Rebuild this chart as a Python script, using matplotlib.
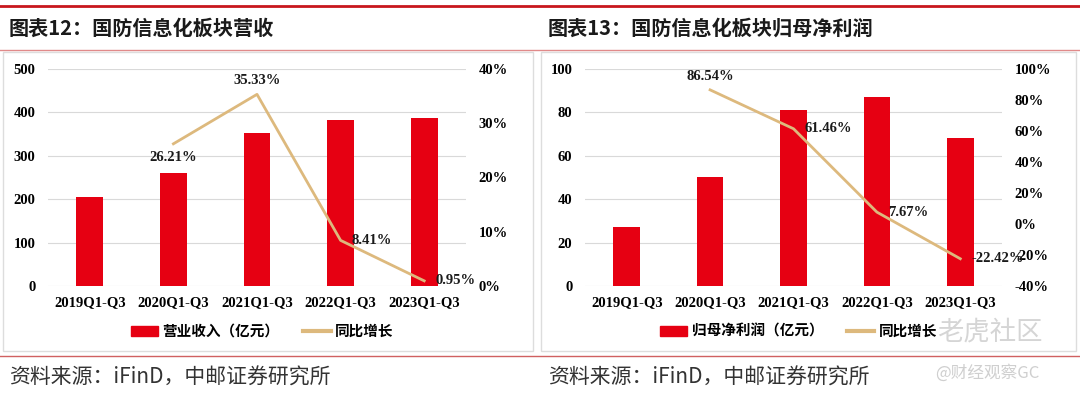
import matplotlib
matplotlib.use("Agg")
import matplotlib.pyplot as plt
from matplotlib.patches import Rectangle, Patch
from matplotlib.lines import Line2D
from matplotlib.ticker import FuncFormatter

# data
periods = ["2019Q1-Q3", "2020Q1-Q3", "2021Q1-Q3", "2022Q1-Q3", "2023Q1-Q3"]
revenue = [205, 260, 352, 382, 387]
revenue_yoy = [None, 26.21, 35.33, 8.41, 0.95]
profit = [27.2, 50.2, 81.1, 87.1, 68.2]
profit_yoy = [None, 86.54, 61.46, 7.67, -22.42]

RED = "#E60012"
TAN = "#DDB97D"
SERIF = "Liberation Serif"
CJK = ["Noto Sans CJK SC", "DejaVu Sans"]

W, H = 1080, 396
fig = plt.figure(figsize=(W / 100, H / 100), dpi=100)


def fx(x):
    return x / W


def fy(y):
    return 1 - y / H


# header / footer lines and boxes
fig.add_artist(Line2D([0, 1], [fy(6), fy(6)], color="#C8161D", lw=2))
fig.add_artist(Line2D([0, 1], [fy(49.5), fy(49.5)], color="#E08A8A", lw=1))
fig.add_artist(Line2D([0, 1], [fy(356), fy(356)], color="#D06060", lw=1))
for x0, x1 in [(3, 533), (541, 1076)]:
    fig.add_artist(Rectangle((fx(x0), fy(351)), fx(x1 - x0), (351 - 52) / H,
                             fill=False, edgecolor="#DDDDDD", lw=1))


def panel(x0, x1, title, title_x, bars, yoy, bar_label, ylim, yticks, rlim, rticks, label_pos):
    ax = fig.add_axes([fx(x0), fy(286), fx(x1 - x0), (286 - 69) / H])
    xs = range(len(periods))
    ax.bar(xs, bars, width=0.32, color=RED, zorder=3)
    ax.set_xlim(-0.5, len(periods) - 0.5)
    ax.set_ylim(*ylim)
    ax.set_yticks(yticks)
    ax.yaxis.grid(True, color="#D9D9D9", lw=0.8, zorder=0)
    ax.set_axisbelow(True)
    ax.set_xticks(list(xs))
    ax.set_xticklabels(periods)
    for s in ax.spines.values():
        s.set_visible(False)
    ax.tick_params(length=0)
    ax.tick_params(axis="y", pad=9)
    ax.tick_params(axis="x", pad=7)
    for t in ax.get_xticklabels() + ax.get_yticklabels():
        t.set_fontfamily(SERIF)
        t.set_fontweight("bold")
        t.set_fontsize(10.5)

    ax2 = ax.twinx()
    ax2.set_ylim(*rlim)
    ax2.set_yticks(rticks)
    ax2.yaxis.set_major_formatter(FuncFormatter(lambda v, p: f"{v:.0f}%"))
    for s in ax2.spines.values():
        s.set_visible(False)
    ax2.tick_params(length=0, pad=9)
    for t in ax2.get_yticklabels():
        t.set_fontfamily(SERIF)
        t.set_fontweight("bold")
        t.set_fontsize(10.5)
    lx = [i for i, v in enumerate(yoy) if v is not None]
    ly = [v for v in yoy if v is not None]
    ax2.plot(lx, ly, color=TAN, lw=2, zorder=4)
    for i, v, pos in zip(lx, ly, label_pos):
        if pos == "above":
            off, ha, va = (0, 5), "center", "bottom"
        elif pos == "below":
            off, ha, va = (0, -5), "center", "top"
        else:
            off, ha, va = (8, 0), "left", "center"
        ax2.annotate(f"{v:.2f}%", (i, v), xytext=off, textcoords="offset points",
                     ha=ha, va=va, fontfamily=SERIF, fontweight="bold", fontsize=10.5,
                     color="#1a1a1a", zorder=5)

    handles = [Patch(color=RED), Line2D([0], [0], color=TAN, lw=3)]
    fig.legend(handles, [bar_label, "同比增长"], loc="center",
               bbox_to_anchor=(fx((x0 + x1) / 2 + 5), fy(331)), ncol=2, frameon=False,
               prop={"family": CJK, "weight": "bold", "size": 10.5},
               handlelength=1.9, handletextpad=0.3, columnspacing=1.6)

    fig.text(fx(title_x), fy(28), title, family=CJK, fontsize=14.5, fontweight="bold",
             color="#1a1a1a", va="center", ha="left")
    fig.text(fx(title_x), fy(378), "资料来源：iFinD，中邮证券研究所", family=CJK,
             fontsize=15, color="#333333", va="center", ha="left")


panel(48, 466, "图表12：国防信息化板块营收", 9, revenue, revenue_yoy, "营业收入（亿元）",
      (0, 500), range(0, 501, 100), (0, 40), range(0, 41, 10),
      ["below", "above", "right", "right"])
panel(585, 1002, "图表13：国防信息化板块归母净利润", 548, profit, profit_yoy, "归母净利润（亿元）",
      (0, 100), range(0, 101, 20), (-40, 100), range(-40, 101, 20),
      ["above", "right", "right", "right"])

# watermark
fig.text(fx(990), fy(332), "老虎社区", family=CJK, fontsize=19, color="#D5D5D5",
         ha="center", va="center")
fig.text(fx(987), fy(373), "@财经观察GC", family=CJK, fontsize=12, color="#CFCFCF",
         ha="center", va="center")

fig.savefig("out.png", dpi=100)
